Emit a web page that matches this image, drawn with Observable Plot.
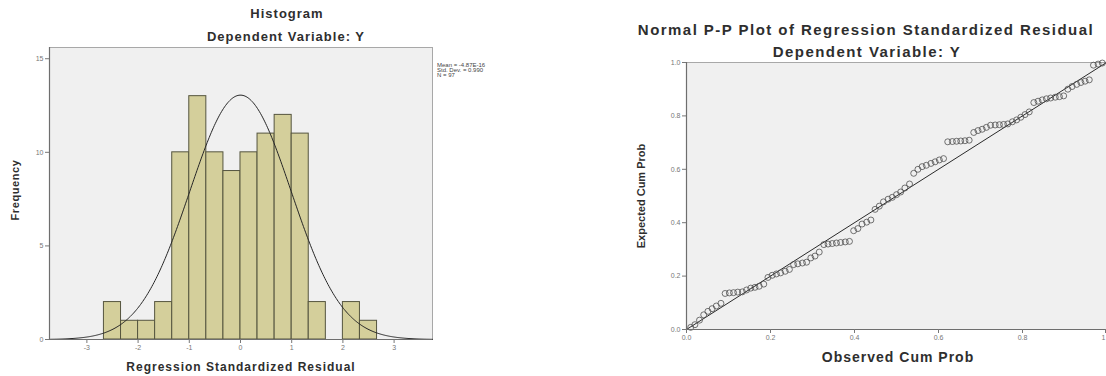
<!DOCTYPE html>
<html><head><meta charset="utf-8">
<script src="https://cdn.jsdelivr.net/npm/d3@7"></script>
<script src="https://cdn.jsdelivr.net/npm/@observablehq/plot@0.6"></script>
<style>
body{margin:0;background:#fff;font-family:"Liberation Sans",Arial,sans-serif;}
#root{position:relative;width:1106px;height:376px;overflow:hidden;background:#fff;}
.t{position:absolute;font-weight:bold;color:#2e2e2e;white-space:nowrap;line-height:1.2;transform:translateX(-50%);}
.r{position:absolute;font-weight:bold;color:#2e2e2e;white-space:nowrap;line-height:1.2;transform:translate(-50%,-50%) rotate(-90deg);}
.s{position:absolute;color:#444;white-space:nowrap;font-size:6px;line-height:5px;}
.p{position:absolute;top:0;}
</style>
</head><body>
<div id="root"></div>
<script>
// ---------- Histogram data ----------
const binLo  = [-2.667,-2.333,-2.000,-1.667,-1.333,-1.000,-0.667,-0.333,0.000,0.333,0.667,1.000,1.333,1.667,2.000,2.333];
const binHi  = [-2.333,-2.000,-1.667,-1.333,-1.000,-0.667,-0.333,0.000,0.333,0.667,1.000,1.333,1.667,2.000,2.333,2.667];
const counts = [2,1,1,2,10,13,10,9,10,11,12,11,2,0,2,1];
const histYTicks = [0,5,10,15];
const histXTicks = [-3,-2,-1,0,1,2,3];
const statMean = -4.87e-16;
const statSD = 0.990;
const statN = 97;
const statLines = ["Mean = -4.87E-16", "Std. Dev. = 0.990", "N = 97"];

// ---------- P-P plot data ----------
const ppObserved = [0.010,0.020,0.031,0.041,0.051,0.061,0.071,0.082,0.092,0.102,
  0.112,0.122,0.133,0.143,0.153,0.163,0.173,0.184,0.194,0.204,
  0.214,0.224,0.235,0.245,0.255,0.265,0.276,0.286,0.296,0.306,
  0.316,0.327,0.337,0.347,0.357,0.367,0.378,0.388,0.398,0.408,
  0.418,0.429,0.439,0.449,0.459,0.469,0.480,0.490,0.500,0.510,
  0.520,0.531,0.541,0.551,0.561,0.571,0.582,0.592,0.602,0.612,
  0.622,0.633,0.643,0.653,0.663,0.673,0.684,0.694,0.704,0.714,
  0.724,0.735,0.745,0.755,0.765,0.776,0.786,0.796,0.806,0.816,
  0.827,0.837,0.847,0.857,0.867,0.878,0.888,0.898,0.908,0.918,
  0.929,0.939,0.949,0.959,0.969,0.980,0.990];
const ppExpected = [0.008,0.018,0.035,0.055,0.068,0.078,0.088,0.098,0.135,0.137,
  0.138,0.140,0.141,0.148,0.155,0.158,0.162,0.170,0.195,0.203,
  0.208,0.212,0.218,0.225,0.243,0.246,0.249,0.252,0.268,0.275,
  0.290,0.318,0.320,0.322,0.324,0.326,0.328,0.330,0.370,0.378,
  0.395,0.402,0.410,0.450,0.462,0.478,0.488,0.495,0.505,0.515,
  0.530,0.545,0.585,0.600,0.610,0.615,0.622,0.628,0.635,0.640,
  0.703,0.704,0.705,0.706,0.707,0.709,0.738,0.745,0.750,0.757,
  0.765,0.766,0.767,0.768,0.770,0.778,0.785,0.795,0.805,0.815,
  0.850,0.855,0.860,0.864,0.867,0.870,0.872,0.875,0.900,0.910,
  0.918,0.925,0.930,0.935,0.990,0.994,0.998];
const ppYTicks = [0,0.2,0.4,0.6,0.8,1];
const ppXTicks = [0,0.2,0.4,0.6,0.8];
const ppXLastTick = [1];
const refLine = [0,1];

// ---------- build ----------
const root = document.getElementById("root");
const font = "Liberation Sans, Arial, sans-serif";

const bins = binLo.map((lo,i)=>({lo, hi: binHi[i], count: counts[i]})).filter(d=>d.count>0);
const xDom = [-3.73, 3.75];
const binW = binHi[0]-binLo[0];
const curve = d3.range(xDom[0], xDom[1]+0.001, 0.02).map(x=>({
  x, y: statN*binW/(statSD*Math.sqrt(2*Math.PI))*Math.exp(-0.5*((x-statMean)/statSD)**2)
}));

const hist = Plot.plot({
  width: 440, height: 376,
  marginLeft: 49, marginRight: 8, marginTop: 47, marginBottom: 37,
  x: {domain: xDom},
  y: {domain: [0, 15.6]},
  style: {background: "transparent", fontFamily: font, color: "#777"},
  marks: [
    Plot.frame({fill: "#f0f0f0", stroke: "#a8a8a8"}),
    Plot.rectY(bins, {x1: "lo", x2: "hi", y: "count", fill: "#d4cf9b", stroke: "#55553f", strokeWidth: 1}),
    Plot.line(curve, {x: "x", y: "y", stroke: "#262626", strokeWidth: 1}),
    Plot.ruleX([xDom[0]], {stroke: "#6e6e6e", strokeWidth: 1.2}),
    Plot.ruleY([0], {stroke: "#6e6e6e", strokeWidth: 1.2}),
    Plot.axisY({ticks: histYTicks, tickSize: 4, tickPadding: 2, fontSize: 7, label: null}),
    Plot.axisX({ticks: histXTicks, tickSize: 4, tickPadding: 2, fontSize: 7, label: null, tickFormat: d=>String(d)})
  ]
});
hist.classList.add("p");
hist.style.left = "0px";
root.appendChild(hist);

const pp = ppObserved.map((x,i)=>({x, y: ppExpected[i]}));
const ref = refLine.map(v=>({x: v, y: v}));
const ppPlot = Plot.plot({
  width: 526, height: 376,
  marginLeft: 106, marginRight: 0, marginTop: 62, marginBottom: 47,
  x: {domain: [0,1]},
  y: {domain: [0,1]},
  style: {background: "transparent", fontFamily: font, color: "#777"},
  marks: [
    Plot.frame({fill: "#f0f0f0", stroke: "#a8a8a8"}),
    Plot.line(ref, {x: "x", y: "y", stroke: "#2a2a2a", strokeWidth: 1}),
    Plot.dot(pp, {x: "x", y: "y", r: 3, fill: "none", stroke: "#505050", strokeWidth: 0.8}),
    Plot.ruleX([0], {stroke: "#6e6e6e", strokeWidth: 1.2}),
    Plot.ruleY([0], {stroke: "#6e6e6e", strokeWidth: 1.2}),
    Plot.axisY({ticks: ppYTicks, tickSize: 4, tickPadding: 2, fontSize: 7, label: null, tickFormat: d3.format(".1f")}),
    Plot.axisX({ticks: ppXTicks, tickSize: 4, tickPadding: 2, fontSize: 7, label: null, tickFormat: d3.format(".1f")}),
    Plot.axisX({ticks: ppXLastTick, tickSize: 4, tickPadding: 2, fontSize: 7, label: null, tickFormat: d=>String(d), textAnchor: "end", dx: -1})
  ]
});
ppPlot.classList.add("p");
ppPlot.style.left = "580px";
root.appendChild(ppPlot);

function addText(cls, txt, x, y, size, ls){
  const d = document.createElement("div");
  d.className = cls;
  d.textContent = txt;
  d.style.fontSize = size + "px";
  d.style.letterSpacing = (ls||0) + "px";
  d.style.left = x + "px";
  if (cls === "t") d.style.top = (y - 0.59*size) + "px";
  else d.style.top = y + "px";
  root.appendChild(d);
}
addText("t", "Histogram", 287, 14, 13, 1);
addText("t", "Dependent Variable: Y", 286, 37, 13, 1);
addText("t", "Regression Standardized Residual", 241, 367, 12, 1);
addText("r", "Frequency", 16, 190, 11, 0.6);
addText("t", "Normal P-P Plot of Regression Standardized Residual", 866, 30, 15, 1.45);
addText("t", "Dependent Variable: Y", 867, 52, 15, 1.45);
addText("t", "Observed Cum Prob", 898, 357, 14, 1);
addText("r", "Expected Cum Prob", 642, 196, 11, 0);
statLines.forEach((s,i)=>{
  const d = document.createElement("div");
  d.className = "s"; d.textContent = s;
  d.style.left = "437px"; d.style.top = (63 + i*5) + "px";
  root.appendChild(d);
});
</script>
</body></html>
